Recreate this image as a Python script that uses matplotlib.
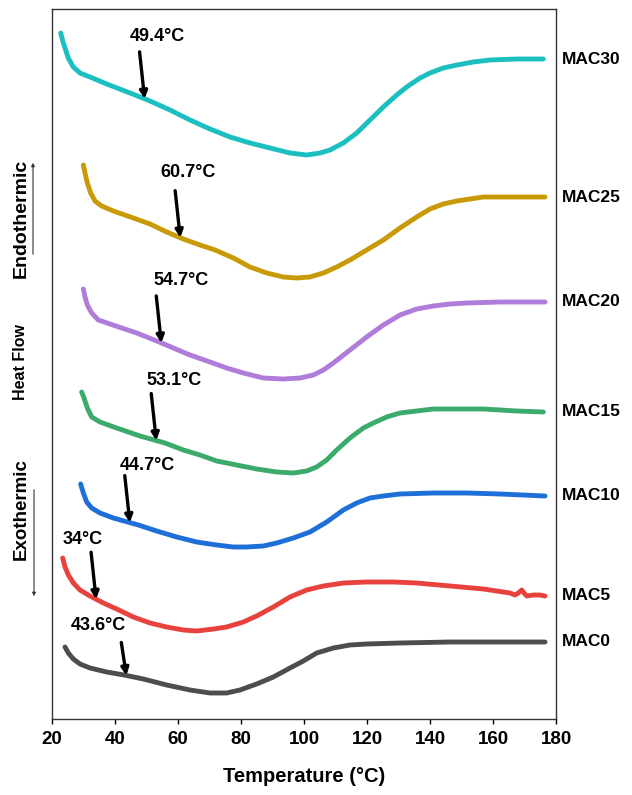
import numpy as np
import matplotlib
matplotlib.use("Agg")
from matplotlib import pyplot as plt
from matplotlib.patches import FancyArrowPatch

plt.rcParams['font.family'] = ['Liberation Sans', 'DejaVu Sans']
plt.rcParams['font.weight'] = 'bold'

# DSC traces, temperature in degC and heat flow in arbitrary units (stacked)
temp_mac30 = [22.76, 23.59, 25.17, 26.76, 28.89, 32.06, 37.37, 44.76, 51.11, 57.46, 63.81,
              70.16, 76.51, 82.86, 89.21, 95.56, 100.86, 105.08, 108.25, 112.48, 116.73,
              120.95, 125.17, 129.43, 132.60, 136.83, 140.0, 144.22, 148.48, 153.75,
              159.05, 167.52, 175.97]
hf_mac30 = [686, 676, 661, 652, 646, 642, 635, 626, 618, 609, 599,
            590, 582, 576, 571, 566, 564, 566, 569, 576, 586,
            599, 612, 624, 632, 641, 646, 651, 654, 657,
            659, 660, 660]

temp_mac25 = [29.95, 30.48, 31.22, 32.28, 33.65, 35.77, 39.47, 45.82, 51.11, 56.40, 61.69,
              66.98, 71.75, 77.57, 82.86, 88.15, 93.44, 97.67, 101.90, 106.14, 110.37,
              114.60, 119.89, 125.18, 130.48, 135.77, 140.0, 144.23, 148.47, 152.70,
              156.93, 162.22, 169.63, 176.51]
hf_mac25 = [554, 546, 536, 526, 518, 513, 508, 501, 495, 487, 480,
            474, 469, 461, 452, 446, 442, 441, 442, 446, 452,
            459, 469, 479, 491, 502, 510, 515, 518, 520,
            522, 522, 522, 522]

temp_mac20 = [29.95, 30.48, 31.22, 32.59, 34.71, 38.41, 46.88, 53.23, 58.52, 63.81, 70.16,
              75.45, 80.74, 87.09, 93.44, 98.73, 102.96, 106.14, 109.31, 114.60, 119.89,
              125.18, 130.48, 135.77, 141.06, 146.35, 151.64, 162.22, 176.51]
hf_mac20 = [430, 422, 414, 406, 399, 395, 386, 378, 371, 364, 357,
            351, 346, 341, 340, 341, 344, 349, 356, 369, 382,
            394, 404, 410, 413, 415, 416, 417, 417]

temp_mac15 = [29.42, 30.16, 31.22, 32.59, 35.24, 40.53, 47.94, 55.87, 61.69, 66.98, 72.28,
              78.62, 84.97, 91.32, 96.61, 100.85, 104.02, 107.20, 110.37, 114.60, 118.84,
              122.01, 126.24, 130.48, 135.77, 141.06, 156.93, 167.51, 175.98]
hf_mac15 = [327, 321, 311, 302, 297, 291, 283, 276, 269, 264, 258,
            254, 250, 247, 246, 248, 252, 259, 269, 281, 291,
            296, 302, 306, 308, 310, 310, 308, 307]

temp_mac10 = [29.10, 29.95, 31.01, 32.59, 35.24, 39.47, 47.41, 53.23, 59.58, 65.93, 72.28,
              77.57, 81.80, 87.09, 91.32, 96.61, 101.90, 107.20, 112.49, 116.72, 120.95,
              125.18, 130.48, 141.06, 151.64, 162.22, 176.51]
hf_mac10 = [235, 226, 217, 211, 206, 201, 194, 188, 182, 177, 174,
            172, 172, 173, 176, 181, 187, 197, 209, 216, 221,
            223, 225, 226, 226, 225, 223]

temp_mac5 = [23.39, 24.13, 25.19, 26.77, 28.89, 32.06, 36.30, 40.53, 45.82, 51.11, 56.40,
             61.69, 65.93, 71.22, 75.45, 80.74, 84.97, 90.26, 95.56, 100.85, 106.14,
             112.49, 119.89, 128.36, 135.77, 146.35, 156.93, 165.40, 166.98, 168.04,
             169.10, 169.84, 170.69, 172.80, 174.92, 176.51]
hf_mac5 = [161, 152, 144, 136, 129, 123, 116, 110, 102, 96, 92,
           89, 88, 90, 92, 97, 103, 112, 122, 129, 133,
           136, 137, 137, 136, 133, 130, 126, 124, 126,
           129, 126, 123, 124, 124, 123]

temp_mac0 = [24.13, 25.19, 26.77, 28.89, 32.06, 37.36, 42.86, 48.99, 56.40, 63.81, 70.16,
             75.45, 79.68, 84.97, 90.26, 95.56, 99.79, 104.02, 109.31, 114.60, 119.89,
             130.48, 146.35, 162.22, 176.51]
hf_mac0 = [72, 66, 60, 55, 51, 47, 44, 40, 34, 29, 26,
           26, 29, 35, 42, 51, 58, 66, 71, 74, 75,
           76, 77, 77, 77]

sample_names = ["MAC30", "MAC25", "MAC20", "MAC15", "MAC10", "MAC5", "MAC0"]
glass_temps = [49.4, 60.7, 54.7, 53.1, 44.7, 34.0, 43.6]
tg_labels = ["49.4°C", "60.7°C", "54.7°C", "53.1°C", "44.7°C", "34°C", "43.6°C"]

temps = [temp_mac30, temp_mac25, temp_mac20, temp_mac15, temp_mac10, temp_mac5, temp_mac0]
flows = [hf_mac30, hf_mac25, hf_mac20, hf_mac15, hf_mac10, hf_mac5, hf_mac0]
colors = ["#1cbfc0", "#c99a08", "#b07cda", "#3caa6b", "#1f6fd9", "#e8423f", "#4d4d4d"]

# arrow lengths (data units) and label offsets from the arrow tail (points)
arrow_len = [47, 47, 47, 47, 47, 47, 33]
label_offsets = [(13, 11), (9, 13), (18, 11), (16.5, 9.5), (16, 7), (-6, 9), (-16.5, 12)]


def main():
    fig = plt.figure(figsize=(6.32, 7.95), dpi=100)
    ax = fig.add_axes([52 / 632, 76 / 795, 504 / 632, 710 / 795])

    for name, t, h, c in zip(sample_names, temps, flows, colors):
        ax.plot(t, h, color=c, lw=3.5, solid_capstyle='round', solid_joinstyle='round')
        ax.annotate(name, xy=(1.0, h[-1]), xycoords=('axes fraction', 'data'),
                    xytext=(4, 0), textcoords='offset points', ha='left', va='center',
                    fontsize=12.5, fontweight='bold', annotation_clip=False)

    # Tg markers
    for t, h, tg, lab, ln, off in zip(temps, flows, glass_temps, tg_labels, arrow_len, label_offsets):
        tip_y = np.interp(tg, t, h)
        tail = (tg - 1.6, tip_y + ln)
        ax.annotate("", xy=(tg, tip_y), xytext=tail,
                    arrowprops=dict(arrowstyle='-|>', color='black', lw=2.4,
                                    mutation_scale=11, shrinkA=0, shrinkB=0))
        ax.annotate(lab, xy=tail, xytext=off, textcoords='offset points',
                    ha='center', va='center', fontsize=13, fontweight='bold')

    ax.set_xlim(20, 180)
    ax.set_ylim(0, 710)
    ax.set_xticks(np.arange(20, 181, 20))
    ax.set_yticks([])
    ax.tick_params(axis='x', direction='out', length=3.6, width=1, labelsize=13.5, pad=5)
    for lab in ax.get_xticklabels():
        lab.set_fontweight('bold')
    for sp in ax.spines.values():
        sp.set_color('#333333')
        sp.set_linewidth(1.0)
    ax.set_xlabel("Temperature (°C)", fontsize=14.5, fontweight='bold', labelpad=14)

    # heat-flow direction labels on the left
    fig.text(21 / 632, 1 - 218 / 795, "Endothermic", rotation=90, ha='center', va='center',
             fontsize=14, fontweight='bold')
    fig.text(21 / 632, 1 - 362 / 795, "Heat Flow", rotation=90, ha='center', va='center',
             fontsize=11.5, fontweight='bold')
    fig.text(21 / 632, 1 - 509 / 795, "Exothermic", rotation=90, ha='center', va='center',
             fontsize=13.5, fontweight='bold')
    fig.add_artist(FancyArrowPatch(
        (33 / 632, 1 - 257 / 795), (33 / 632, 1 - 160 / 795), transform=fig.transFigure,
        arrowstyle='-|>', mutation_scale=5, lw=0.8, color='#333333'))
    fig.add_artist(FancyArrowPatch(
        (34 / 632, 1 - 487 / 795), (34 / 632, 1 - 599 / 795), transform=fig.transFigure,
        arrowstyle='-|>', mutation_scale=5, lw=0.8, color='#333333'))

    fig.savefig("out.png", dpi=100)


if __name__ == "__main__":
    main()
